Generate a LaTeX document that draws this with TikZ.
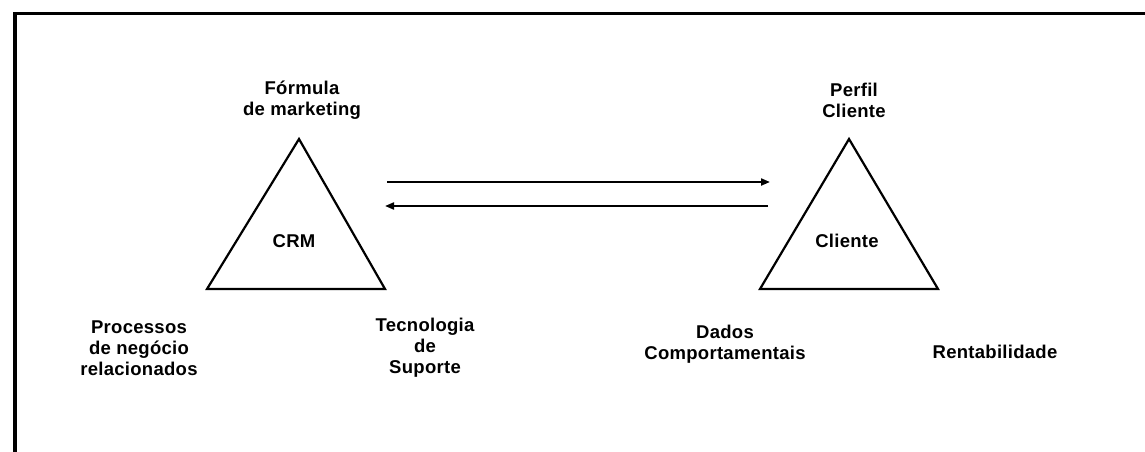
\documentclass[tikz,border=0pt]{standalone}
\usepackage{fontspec}
\setmainfont{Liberation Sans}[LetterSpace=1.5]
\usetikzlibrary{arrows.meta}
\begin{document}
\begin{tikzpicture}[x=1pt,y=-1pt,
  lbl/.style={font=\bfseries\fontsize{18.5}{21}\selectfont, align=center, inner sep=0pt},
  tri/.style={line width=2.2pt, line join=miter},
  flow/.style={line width=2pt, -{Triangle[length=9pt,width=7pt]}}]
\useasboundingbox (0,0) rectangle (1145,452);
% frame
\draw[line width=3.5pt] (15,452) -- (15,13.5) -- (1145,13.5);
% triangles
\coordinate (crmA) at (299,139);
\coordinate (crmL) at (207,289);
\coordinate (crmR) at (385,289);
\draw[tri] (crmA) -- (crmL) -- (crmR) -- cycle;
\coordinate (cliA) at (849,139);
\coordinate (cliL) at (760,289);
\coordinate (cliR) at (938,289);
\draw[tri] (cliA) -- (cliL) -- (cliR) -- cycle;
% labels
\node[lbl] (crm) at (294,241) {CRM};
\node[lbl] (cli) at (847,241) {Cliente};
\node[lbl] (formula) at (302,100) {Fórmula\\de marketing};
\node[lbl] (perfil) at (854,100) {Perfil\\Cliente};
\node[lbl] (proc) at (139,348) {Processos\\de negócio\\relacionados};
\node[lbl] (tec) at (425,348) {Tecnologia\\de\\Suporte};
\node[lbl] (dados) at (725,344) {Dados\\Comportamentais};
\node[lbl] (rent) at (995,352) {Rentabilidade};
% arrows
\coordinate (a1) at (387,182);
\coordinate (b1) at (770,182);
\coordinate (a2) at (768,206);
\coordinate (b2) at (385,206);
\draw[flow] (a1) -- (b1);
\draw[flow] (a2) -- (b2);
\end{tikzpicture}
\end{document}
